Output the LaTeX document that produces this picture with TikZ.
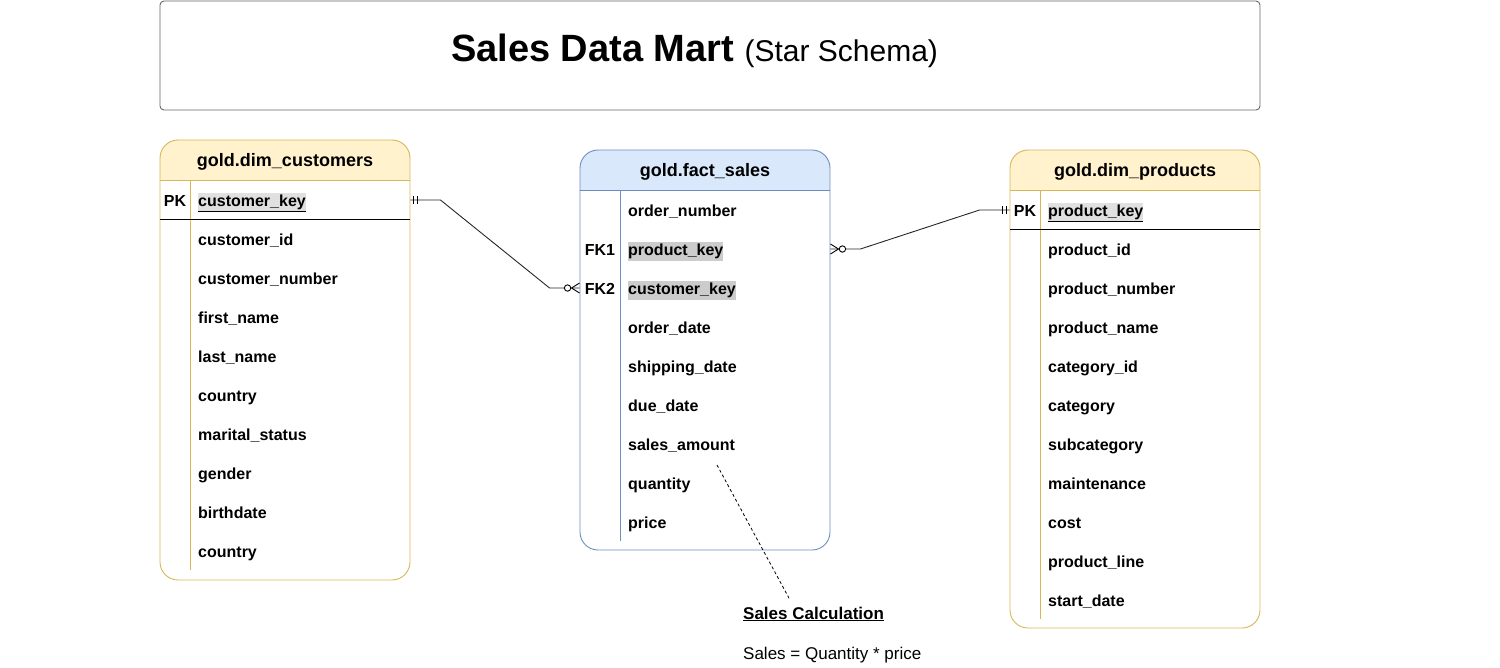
\documentclass[tikz,border=0pt]{standalone}
\usepackage{fontspec}
\setmainfont{Liberation Sans}
\usetikzlibrary{calc}
\definecolor{yfill}{HTML}{FFF2CC}
\definecolor{ystroke}{HTML}{D6B656}
\definecolor{bfill}{HTML}{DAE8FC}
\definecolor{bstroke}{HTML}{6C8EBF}
\definecolor{pkgray}{HTML}{E0E0E0}
\definecolor{fkgray}{HTML}{CCCCCC}
\definecolor{tstroke}{HTML}{666666}
\newcommand\fldfont{\fontsize{16}{19}\selectfont\bfseries}
\newcommand\hdrfont{\fontsize{18}{21}\selectfont\bfseries}
\begin{document}
\begin{tikzpicture}[x=1pt,y=-1pt,
  fld/.style={anchor=west, inner xsep=0pt, inner ysep=1.5pt, font=\fldfont, text height=12pt, text depth=4pt, yshift=-2pt},
  keylbl/.style={inner sep=0pt, font=\fldfont, text height=12pt, text depth=4pt, yshift=-2pt},
  hdr/.style={font=\hdrfont, text height=13pt, text depth=4pt, yshift=-2pt},
  pkhl/.style={fill=pkgray},
  fkhl/.style={fill=fkgray},
  conn/.style={line width=0.9pt, black!85},
  tick/.style={line width=0.9pt, black}]
\useasboundingbox (0,0) rectangle (1500,667);

% ---------- title ----------
\node[draw=tstroke, line width=0.9pt, rounded corners=4pt, minimum width=1100pt, minimum height=109pt, inner sep=0pt] (titlebox) at (710,55.5) {};
\node (title) at (694.5,51) {\fontsize{38}{45}\selectfont\bfseries Sales Data Mart \fontsize{30}{36}\mdseries\selectfont(Star Schema)};

% ---------- dim_customers ----------
\begin{scope}
  \clip[rounded corners=18pt] (160,140) rectangle (410,580);
  \fill[yfill] (160,140) rectangle (410,180);
\end{scope}
\node[draw=ystroke, line width=0.9pt, rounded corners=18pt, minimum width=250pt, minimum height=440pt, inner sep=0pt] (cust) at (285,360) {};
\draw[ystroke, line width=0.9pt] (160,180) -- (410,180);
\draw[ystroke, line width=0.9pt] (190,180) -- (190,570);
\draw[black, line width=1pt] (160,219) -- (410,219);
\node[hdr] (custh) at (285,160) {gold.dim\_customers};
\node[keylbl] (custpk) at (175,200) {PK};
\node[fld, pkhl] (ckey) at (198,200) {\underline{customer\_key}};
\foreach \t [count=\i] in {customer\_id, customer\_number, first\_name, last\_name, country, marital\_status, gender, birthdate, country}
  \node[fld] (c\i) at (198,200+39*\i) {\t};

% ---------- fact_sales ----------
\begin{scope}
  \clip[rounded corners=18pt] (580,150) rectangle (830,550);
  \fill[bfill] (580,150) rectangle (830,190);
\end{scope}
\node[draw=bstroke, line width=0.9pt, rounded corners=18pt, minimum width=250pt, minimum height=400pt, inner sep=0pt] (fact) at (705,350) {};
\draw[bstroke, line width=0.9pt] (580,190) -- (830,190);
\draw[bstroke, line width=0.9pt] (620,190) -- (620,541);
\node[hdr] (facth) at (705,170) {gold.fact\_sales};
\node[keylbl] (fk1) at (600,249) {FK1};
\node[keylbl] (fk2) at (600,288) {FK2};
\node[fld] (f1) at (628,210) {order\_number};
\node[fld, fkhl] (fpkey) at (628,249) {product\_key};
\node[fld, fkhl] (fckey) at (628,288) {customer\_key};
\node[fld] (f4) at (628,327) {order\_date};
\node[fld] (f5) at (628,366) {shipping\_date};
\node[fld] (f6) at (628,405) {due\_date};
\node[fld] (fsa) at (628,444) {sales\_amount};
\node[fld] (f8) at (628,483) {quantity};
\node[fld] (f9) at (628,522) {price};

% ---------- dim_products ----------
\begin{scope}
  \clip[rounded corners=18pt] (1010,150) rectangle (1260,628);
  \fill[yfill] (1010,150) rectangle (1260,190);
\end{scope}
\node[draw=ystroke, line width=0.9pt, rounded corners=18pt, minimum width=250pt, minimum height=478pt, inner sep=0pt] (prod) at (1135,389) {};
\draw[ystroke, line width=0.9pt] (1010,190) -- (1260,190);
\draw[ystroke, line width=0.9pt] (1040,190) -- (1040,619);
\draw[black, line width=1pt] (1010,229) -- (1260,229);
\node[hdr] (prodh) at (1135,170) {gold.dim\_products};
\node[keylbl] (prodpk) at (1025,210) {PK};
\node[fld, pkhl] (pkey) at (1048,210) {\underline{product\_key}};
\foreach \t [count=\i] in {product\_id, product\_number, product\_name, category\_id, category, subcategory, maintenance, cost, product\_line, start\_date}
  \node[fld] (p\i) at (1048,210+39*\i) {\t};

% ---------- relationships ----------
% customers (1) -- (0..n) fact_sales
\coordinate (cA) at ($(cust.east |- ckey)+(0,-2)$);
\coordinate (cB) at ($(fact.west |- fckey)+(0,-2)$);
\draw[conn] (cA) -- ++(30,0) -- ($(cB)+(-30,0)$) -- (cB);
\draw[tick] ($(cA)+(3,-4)$) -- ++(0,8);
\draw[tick] ($(cA)+(7,-4)$) -- ++(0,8);
\draw[tick] ($(cB)+(-8,0)$) -- ($(cB)+(0,-5)$);
\draw[tick] ($(cB)+(-8,0)$) -- ($(cB)+(0,5)$);
\draw[tick, fill=white] ($(cB)+(-12,0)$) circle (3.2pt);

% fact_sales (0..n) -- (1) products
\coordinate (pA) at ($(fact.east |- fpkey)+(0,-2)$);
\coordinate (pB) at ($(prod.west |- pkey)+(0,-2)$);
\draw[conn] (pA) -- ++(30,0) -- ($(pB)+(-30,0)$) -- (pB);
\draw[tick] ($(pA)+(8,0)$) -- ($(pA)+(0,-5)$);
\draw[tick] ($(pA)+(8,0)$) -- ($(pA)+(0,5)$);
\draw[tick, fill=white] ($(pA)+(12,0)$) circle (3.2pt);
\draw[tick] ($(pB)+(-3,-4)$) -- ++(0,8);
\draw[tick] ($(pB)+(-7,-4)$) -- ++(0,8);

% ---------- sales calculation note ----------
\node[anchor=west, inner xsep=0pt, font=\fontsize{17}{20}\selectfont\bfseries] (calc) at (743,614) {\underline{Sales Calculation}};
\node[anchor=west, inner xsep=0pt, font=\fontsize{17}{20}\selectfont] (formula) at (743,655) {Sales = Quantity * price};
\coordinate (dstart) at (717,465);
\coordinate (dend) at (790,600);
\draw[black, line width=0.8pt, dash pattern=on 3pt off 2.5pt] (dstart) -- (dend);
\end{tikzpicture}
\end{document}
